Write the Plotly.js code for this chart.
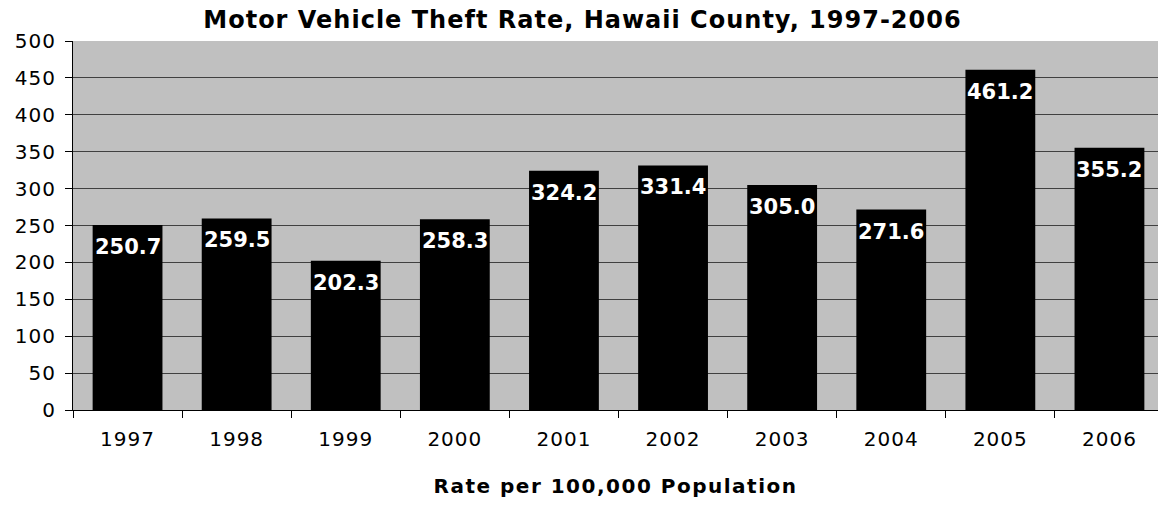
<!DOCTYPE html>
<html>
<head>
<meta charset="utf-8">
<script src="https://cdn.plot.ly/plotly-3.0.1.min.js"></script>
<style>
html,body{margin:0;padding:0;background:#fff;}
#chart{width:1158px;height:525px;}
#chart .gtitle{letter-spacing:1px;}
#chart .xtick text{letter-spacing:1px;}
#chart .ytick text{letter-spacing:1px;}
#chart .g-xtitle text{letter-spacing:1.5px;}
</style>
</head>
<body>
<div id="chart"></div>
<script>
const years = ["1997","1998","1999","2000","2001","2002","2003","2004","2005","2006"];
const rates = [250.7, 259.5, 202.3, 258.3, 324.2, 331.4, 305.0, 271.6, 461.2, 355.2];
const yTicks = [0, 50, 100, 150, 200, 250, 300, 350, 400, 450, 500];

const trace = {
  type: "bar",
  x: years,
  y: rates,
  marker: {color: "#000000", line: {color: "#000000", width: 0}},
  hoverinfo: "x+y"
};

const annotations = years.map((yr, i) => ({
  x: i, y: rates[i], xref: "x", yref: "y",
  text: "<b>" + rates[i].toFixed(1) + "</b>",
  showarrow: false, yanchor: "top", xanchor: "center", yshift: -8,
  font: {family: "DejaVu Sans", size: 21, color: "#ffffff"}
}));

const layout = {
  width: 1158, height: 525,
  margin: {l: 73, r: 0, t: 41, b: 115, pad: 0},
  paper_bgcolor: "#ffffff",
  plot_bgcolor: "#c0c0c0",
  bargap: 0.36,
  title: {
    text: "<b>Motor Vehicle Theft Rate, Hawaii County, 1997-2006</b>",
    font: {family: "DejaVu Sans", size: 24, color: "#000000"},
    x: 0.503, xref: "container", xanchor: "center", y: 0.962, yanchor: "middle"
  },
  xaxis: {
    type: "category",
    range: [-0.5, 9.445],
    tickson: "boundaries",
    ticks: "outside", ticklen: 7, tickcolor: "#000000", tickwidth: 1,
    ticklabelstandoff: 11,
    showline: true, linecolor: "#000000", linewidth: 1,
    showgrid: false, zeroline: false,
    tickfont: {family: "DejaVu Sans", size: 20, color: "#000000"},
    title: {
      text: "<b>Rate per 100,000 Population</b>",
      font: {family: "DejaVu Sans", size: 20, color: "#000000"},
      standoff: 28
    }
  },
  yaxis: {
    range: [0, 500],
    tickvals: yTicks,
    ticktext: yTicks.map(String),
    ticks: "outside", ticklen: 7, tickcolor: "#000000", tickwidth: 1,
    ticklabelstandoff: 5,
    showline: true, linecolor: "#000000", linewidth: 1,
    showgrid: true, gridcolor: "#404040", gridwidth: 1,
    zeroline: false,
    tickfont: {family: "DejaVu Sans", size: 20, color: "#000000"}
  },
  annotations: annotations,
  showlegend: false
};

Plotly.newPlot("chart", [trace], layout, {displayModeBar: false, staticPlot: true});
</script>
</body>
</html>
